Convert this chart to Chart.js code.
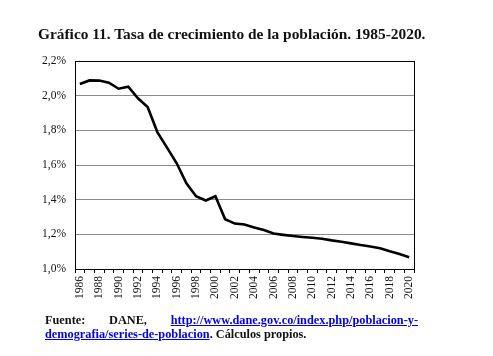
<!DOCTYPE html>
<html><head><meta charset="utf-8">
<script src="https://cdn.jsdelivr.net/npm/chart.js@4/dist/chart.umd.min.js"></script>
<style>
html,body{margin:0;padding:0;background:#fff;}
body{width:493px;height:356px;position:relative;overflow:hidden;font-family:"Liberation Serif","Times New Roman",serif;}
#title{position:absolute;left:38px;top:25px;font-weight:bold;font-size:15.4px;white-space:nowrap;color:#111;}
#wrap{position:absolute;left:0;top:0;width:493px;height:356px;}
#foot{position:absolute;left:45px;top:314px;width:373px;font-weight:bold;font-size:12.3px;line-height:13.5px;text-align:justify;text-align-last:left;color:#111;}
#foot a{color:#0000ee;text-decoration:underline;}
</style></head><body>
<div id="wrap"><canvas id="c" width="493" height="356"></canvas></div>
<div id="title">Gráfico 11. Tasa de crecimiento de la población. 1985-2020.</div>
<div id="foot">Fuente: DANE, <a>http://www.dane.gov.co/index.php/poblacion-y-demografia/series-de-poblacion</a>. Cálculos propios.</div>
<script>
const years = ['1986','1987','1988','1989','1990','1991','1992','1993','1994','1995','1996','1997','1998','1999','2000','2001','2002','2003','2004','2005','2006','2007','2008','2009','2010','2011','2012','2013','2014','2015','2016','2017','2018','2019','2020'];
const growthRate = [2.067,2.088,2.087,2.075,2.040,2.052,1.985,1.935,1.790,1.700,1.610,1.495,1.420,1.395,1.420,1.287,1.262,1.257,1.240,1.225,1.205,1.197,1.190,1.185,1.180,1.175,1.165,1.157,1.148,1.138,1.130,1.120,1.102,1.087,1.068];
const yMin = 1.0, yMax = 2.2, yStep = 0.2;

const boxPlugin = {
  id:'box',
  afterDraw(chart){
    const a = chart.chartArea, ctx = chart.ctx;
    ctx.save();
    ctx.strokeStyle = '#000';
    ctx.lineWidth = 1;
    ctx.strokeRect(Math.round(a.left)+0.5, Math.round(a.top)+0.5, Math.round(a.right-a.left), Math.round(a.bottom-a.top));
    ctx.restore();
  }
};

new Chart(document.getElementById('c'), {
  type:'line',
  data:{labels:years, datasets:[{data:growthRate, borderColor:'#000', borderWidth:2.6, pointRadius:0, tension:0, fill:false}]},
  options:{
    responsive:false, animation:false,
    layout:{padding:{left:0, right:79, top:61, bottom:47}},
    plugins:{legend:{display:false}, tooltip:{enabled:false}},
    scales:{
      x:{
        offset:true,
        grid:{offset:true, drawOnChartArea:false, drawTicks:true, tickLength:4, tickColor:'#000'},
        border:{color:'#000'},
        afterFit(s){ s.height = 40; },
        ticks:{autoSkip:false, minRotation:90, maxRotation:90, padding:3, color:'#111',
          font:{family:'"Liberation Serif", serif', size:11.5},
          callback(v, i){ return i % 2 === 0 ? years[i] : ''; }}
      },
      y:{
        min:yMin, max:yMax,
        afterFit(s){ s.width = 75; },
        grid:{color:'#8c8c8c', lineWidth:1, drawTicks:false},
        border:{color:'#000'},
        ticks:{stepSize:yStep, padding:9, color:'#111',
          font:{family:'"Liberation Serif", serif', size:11.5},
          callback(v){ return v.toFixed(1).replace('.', ',') + '%'; }}
      }
    }
  },
  plugins:[boxPlugin]
});
</script>
</body></html>
